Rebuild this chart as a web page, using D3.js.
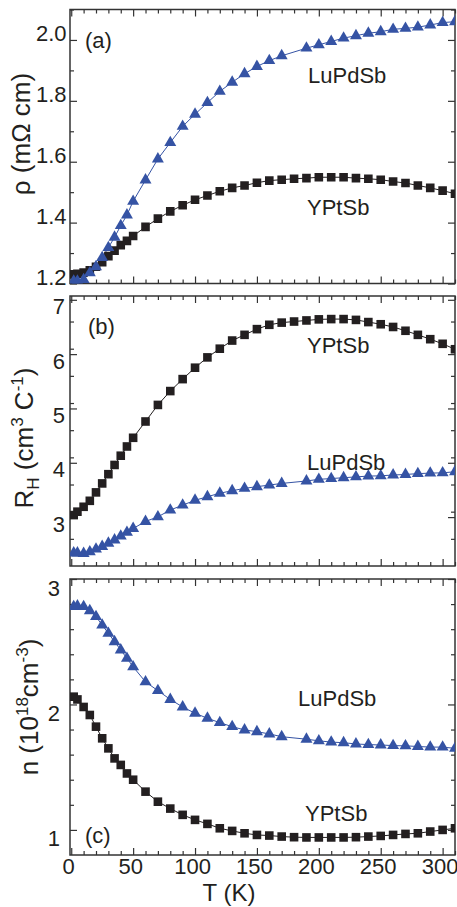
<!DOCTYPE html>
<html><head><meta charset="utf-8">
<script src="https://cdn.jsdelivr.net/npm/d3@7"></script>
<style>body{margin:0;background:#fff} svg{display:block}</style>
</head><body><svg id="chart" width="457" height="907"></svg>
<script>
// ---- data ----
const T_YPtSb = [2,5,10,15,20,25,30,35,40,45,50,60,70,80,90,100,110,120,130,140,150,160,170,180,190,200,210,220,230,240,250,260,270,280,290,300,310];
const T_LuPdSb = [2,5,10,15,20,25,30,35,40,45,50,60,70,80,90,100,110,120,130,140,150,160,170,190,200,210,220,230,240,250,260,270,280,290,300,310];

const rho_YPtSb = [1.230,1.232,1.236,1.243,1.255,1.270,1.290,1.308,1.326,1.340,1.356,1.386,1.413,1.437,1.457,1.475,1.489,1.503,1.514,1.522,1.531,1.538,1.541,1.544,1.546,1.549,1.549,1.549,1.546,1.544,1.541,1.535,1.530,1.522,1.514,1.505,1.495];
const rho_LuPdSb = [1.208,1.208,1.213,1.235,1.255,1.285,1.318,1.352,1.390,1.425,1.470,1.540,1.609,1.663,1.716,1.756,1.794,1.831,1.861,1.889,1.913,1.932,1.948,1.973,1.984,1.995,2.006,2.014,2.022,2.027,2.035,2.038,2.042,2.049,2.057,2.060];

const RH_YPtSb = [3.037,3.10,3.19,3.30,3.455,3.62,3.79,3.96,4.13,4.30,4.46,4.76,5.065,5.32,5.54,5.75,5.94,6.10,6.25,6.355,6.46,6.54,6.58,6.60,6.62,6.64,6.645,6.645,6.63,6.59,6.55,6.50,6.43,6.355,6.275,6.19,6.09];
const RH_LuPdSb = [2.34,2.34,2.33,2.36,2.41,2.46,2.52,2.58,2.65,2.72,2.79,2.92,3.005,3.13,3.22,3.31,3.375,3.44,3.485,3.53,3.56,3.59,3.62,3.665,3.695,3.71,3.725,3.74,3.755,3.76,3.775,3.785,3.80,3.81,3.815,3.835];

const n_YPtSb = [2.062,2.04,1.98,1.916,1.823,1.73,1.65,1.57,1.518,1.45,1.40,1.305,1.225,1.17,1.12,1.08,1.048,1.013,0.992,0.973,0.96,0.955,0.947,0.942,0.94,0.94,0.94,0.94,0.942,0.947,0.952,0.96,0.968,0.973,0.987,1.0,1.013];
const n_LuPdSb = [2.78,2.785,2.78,2.747,2.70,2.633,2.567,2.50,2.434,2.368,2.30,2.18,2.11,2.04,1.98,1.93,1.89,1.855,1.823,1.797,1.783,1.765,1.743,1.723,1.71,1.70,1.695,1.685,1.68,1.677,1.672,1.67,1.665,1.66,1.66,1.65];

const xTickLabels = [0,50,100,150,200,250,300];
const yTicks_a = [1.2,1.4,1.6,1.8,2.0];
const yTicks_b = [3,4,5,6,7];
const yTicks_c = [1,2,3];
const seriesNames = ["YPtSb","LuPdSb"];
const panelLetters = ["(a)","(b)","(c)"];

// ---- drawing ----
const svg = d3.select("#chart");
const FONT = "'Liberation Sans', Arial, Helvetica, sans-serif";
const BLACK = "#231f20", BLUE = "#3553a4", AXIS = "#333";
const L = 70, R = 455;
const x = d3.scaleLinear().domain([-1, 310]).range([L, R]);
const xMinor = d3.range(0, 311, 10).filter(v => v % 50 !== 0);

const panels = [
  {id:"a", top:9.5, bottom:283.5, domain:[1.2,2.1], ticks:yTicks_a, minorStep:0.1, fmt:d3.format(".1f"),
   ys:rho_YPtSb, yl:rho_LuPdSb, pad:3.5, labDy:-6, showX:false,
   letter:[85,48], lblY:[307,215], lblL:[308,83]},
  {id:"b", top:296, bottom:566, domain:[2.1,7.07], ticks:yTicks_b, minorStep:0.5, fmt:d3.format("d"),
   ys:RH_YPtSb, yl:RH_LuPdSb, pad:5, labDy:7, showX:false,
   letter:[88,334], lblY:[307,353], lblL:[307,470]},
  {id:"c", top:579, bottom:855, domain:[0.8,3.0], ticks:yTicks_c, minorStep:0.2, fmt:d3.format("d"),
   ys:n_YPtSb, yl:n_LuPdSb, pad:10, labDy:9, showX:true,
   letter:[85,843], lblY:[305,821], lblL:[298,706]}
];

function styleAxis(sel){
  sel.select(".domain").remove();
  sel.selectAll(".tick line").attr("stroke", AXIS).attr("stroke-width", 1.2);
  sel.selectAll("text").attr("font-family", FONT).attr("font-size", 22).attr("fill", BLACK);
}

panels.forEach((p, i) => {
  const y = d3.scaleLinear().domain(p.domain).range([p.bottom, p.top]);
  const g = svg.append("g");
  const yMinor = d3.range(p.domain[0], p.domain[1] + 1e-9, p.minorStep)
    .map(v => +v.toFixed(3))
    .filter(v => !p.ticks.some(t => Math.abs(t - v) < 1e-6) && v > p.domain[0] + 1e-6);

  // x axes (bottom & top), ticks inward
  const bx = g.append("g").attr("transform", `translate(0,${p.bottom})`)
    .call(d3.axisBottom(x).tickValues(xTickLabels).tickSize(-7).tickPadding(3.5)
      .tickFormat(p.showX ? d3.format("d") : ""));
  styleAxis(bx);
  bx.selectAll("text").attr("transform", "translate(-3,0)");
  styleAxis(g.append("g").attr("transform", `translate(0,${p.bottom})`)
    .call(d3.axisBottom(x).tickValues(xMinor).tickSize(-4).tickFormat("")));
  styleAxis(g.append("g").attr("transform", `translate(0,${p.top})`)
    .call(d3.axisTop(x).tickValues(xTickLabels).tickSize(-7).tickFormat("")));
  styleAxis(g.append("g").attr("transform", `translate(0,${p.top})`)
    .call(d3.axisTop(x).tickValues(xMinor).tickSize(-4).tickFormat("")));

  // y axes (left & right)
  const ly = g.append("g").attr("transform", `translate(${L},0)`)
    .call(d3.axisLeft(y).tickValues(p.ticks).tickSize(-7).tickPadding(p.pad).tickFormat(p.fmt));
  styleAxis(ly);
  ly.selectAll("text").attr("transform", `translate(0,${p.labDy})`);
  styleAxis(g.append("g").attr("transform", `translate(${L},0)`)
    .call(d3.axisLeft(y).tickValues(yMinor).tickSize(-4).tickFormat("")));
  styleAxis(g.append("g").attr("transform", `translate(${R},0)`)
    .call(d3.axisRight(y).tickValues(p.ticks).tickSize(-7).tickFormat("")));
  styleAxis(g.append("g").attr("transform", `translate(${R},0)`)
    .call(d3.axisRight(y).tickValues(yMinor).tickSize(-4).tickFormat("")));

  // frame
  g.append("rect").attr("x", L).attr("y", p.top).attr("width", R - L).attr("height", p.bottom - p.top)
    .attr("fill", "none").attr("stroke", AXIS).attr("stroke-width", 1.5);

  // clip
  const cid = "clip-" + p.id;
  svg.append("clipPath").attr("id", cid).append("rect")
    .attr("x", L).attr("y", p.top).attr("width", R - L).attr("height", p.bottom - p.top);
  const plot = g.append("g").attr("clip-path", `url(#${cid})`);

  const line = d3.line().x(d => x(d[0])).y(d => y(d[1]));
  const dS = T_YPtSb.map((t, k) => [t, p.ys[k]]);
  const dL = T_LuPdSb.map((t, k) => [t, p.yl[k]]);

  plot.append("path").datum(dS).attr("d", line).attr("fill", "none").attr("stroke", BLACK).attr("stroke-width", 1);
  plot.append("path").datum(dL).attr("d", line).attr("fill", "none").attr("stroke", BLUE).attr("stroke-width", 1);

  const sq = d3.symbol().type(d3.symbolSquare).size(74);
  const tri = d3.symbol().type(d3.symbolTriangle).size(62);
  plot.selectAll(".sq").data(dS).join("path").attr("class", "sq")
    .attr("transform", d => `translate(${x(d[0])},${y(d[1])})`).attr("d", sq).attr("fill", BLACK);
  plot.selectAll(".tri").data(dL).join("path").attr("class", "tri")
    .attr("transform", d => `translate(${x(d[0])},${y(d[1])})`).attr("d", tri).attr("fill", BLUE);

  // texts
  const txt = (xx, yy, s, size) => g.append("text").attr("x", xx).attr("y", yy).text(s)
    .attr("font-family", FONT).attr("font-size", size).attr("fill", BLACK);
  txt(p.letter[0], p.letter[1], panelLetters[i], 22);
  txt(p.lblY[0], p.lblY[1], seriesNames[0], 22);
  txt(p.lblL[0], p.lblL[1], seriesNames[1], 22);
});

// y-axis titles
function ytitle(bx, cy, parts){
  const t = svg.append("text").attr("transform", `translate(${bx},${cy}) rotate(-90)`)
    .attr("text-anchor", "middle").attr("font-family", FONT).attr("font-size", 26).attr("fill", BLACK);
  parts.forEach(pt => {
    const ts = t.append("tspan").text(pt.s);
    if (pt.sup) ts.attr("font-size", 17).attr("dy", pt.dy);
    else if (pt.sub) ts.attr("font-size", 17).attr("dy", pt.dy);
    else if (pt.dy) ts.attr("dy", pt.dy);
  });
}
ytitle(30, 134, [{s:"ρ (mΩ cm)"}]);
ytitle(33, 438, [{s:"R"},{s:"H",sub:true,dy:6},{s:"  (cm",dy:-6},{s:"3",sup:true,dy:-10},{s:" C",dy:10},{s:"-1",sup:true,dy:-10},{s:")",dy:10}]);
ytitle(38, 707, [{s:"n (10"},{s:"18",sup:true,dy:-10},{s:"cm",dy:10},{s:"-3",sup:true,dy:-10},{s:")",dy:10}]);

// x-axis title
svg.append("text").attr("x", 229).attr("y", 901).attr("text-anchor", "middle")
  .attr("font-family", FONT).attr("font-size", 24).attr("fill", BLACK).text("T (K)");
</script></body></html>
